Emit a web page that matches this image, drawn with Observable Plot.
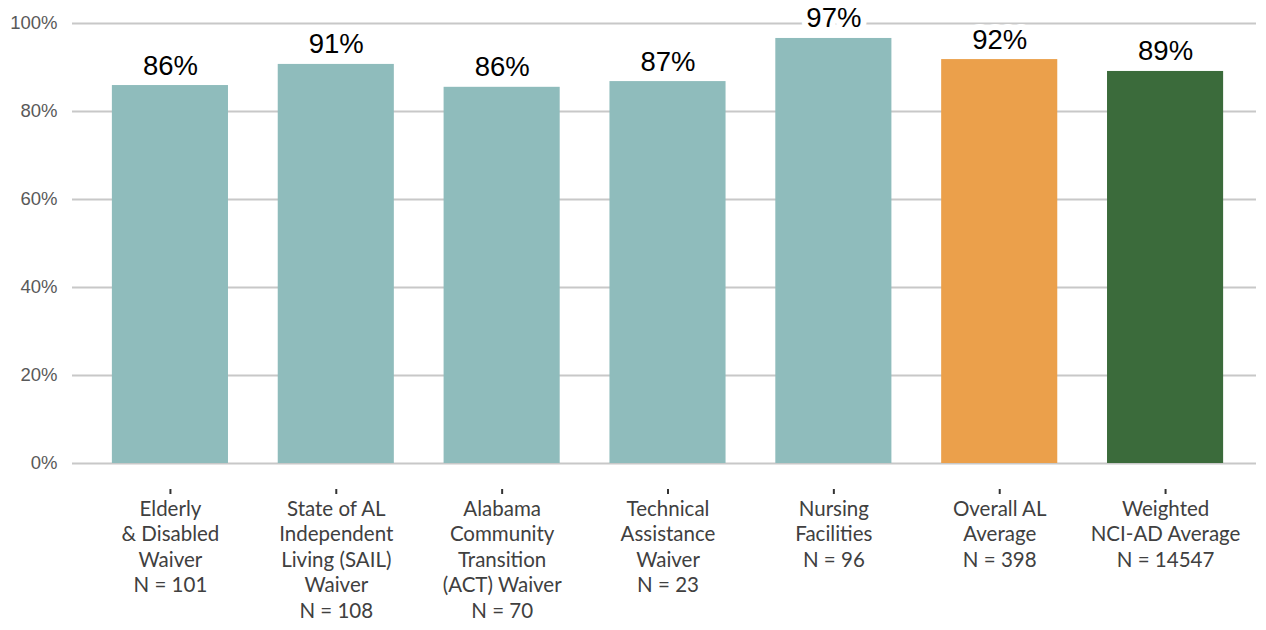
<!DOCTYPE html>
<html><head><meta charset="utf-8">
<script src="https://cdn.jsdelivr.net/npm/d3@7"></script>
<script src="https://cdn.jsdelivr.net/npm/@observablehq/plot@0.6"></script>
<style>body{margin:0;background:#fff}</style>
</head><body><div id="chart"></div>
<script>
const categories = ["Elderly & Disabled Waiver", "SAIL Waiver", "ACT Waiver", "Technical Assistance Waiver", "Nursing Facilities", "Overall AL Average", "Weighted NCI-AD Average"];
const tickLabels = [
  "Elderly\n& Disabled\nWaiver\nN = 101",
  "State of AL\nIndependent\nLiving (SAIL)\nWaiver\nN = 108",
  "Alabama\nCommunity\nTransition\n(ACT) Waiver\nN = 70",
  "Technical\nAssistance\nWaiver\nN = 23",
  "Nursing\nFacilities\nN = 96",
  "Overall AL\nAverage\nN = 398",
  "Weighted\nNCI-AD Average\nN = 14547"
];
const values = [85.9, 90.7, 85.5, 86.8, 96.6, 91.8, 89.1];
const groups = ["Program", "Program", "Program", "Program", "Program", "Overall AL", "NCI-AD"];
const yTicks = [0, 20, 40, 60, 80, 100];

const data = categories.map((c, i) => ({category: c, value: values[i], group: groups[i], label: Math.round(values[i]) + "%"}));

const chart = Plot.plot({
  width: 1266, height: 630,
  marginTop: 23, marginBottom: 167, marginLeft: 72, marginRight: 10,
  style: {background: "#fff"},
  x: {domain: categories, insetLeft: 15, insetRight: 8, paddingInner: 0.3, paddingOuter: 0.15, round: false, label: null},
  y: {domain: [0, 100], label: null},
  color: {domain: ["Program", "Overall AL", "NCI-AD"], range: ["#8FBCBC", "#EBA04B", "#3B6B3B"]},
  marks: [
    Plot.gridY(yTicks, {stroke: "#C8C8C8", strokeOpacity: 1, strokeWidth: 2}),
    Plot.axisY(yTicks, {tickSize: 0, tickPadding: 15, tickFormat: d => d + "%", fontSize: 18.5, fill: "#595959", fontFamily: "Liberation Sans, Arial, sans-serif"}),
    Plot.barY(data, {x: "category", y: "value", fill: "group"}),
    Plot.axisX({tickSize: 5, dy: 26, tickPadding: 3, tickFormat: d => tickLabels[categories.indexOf(d)], fontSize: 20.5, lineHeight: 1.245, fill: "#404040", stroke: "#333", strokeWidth: 2, fontFamily: "Lato, sans-serif"}),
    Plot.text(data, {x: "category", y: "value", text: "label", lineAnchor: "bottom", dy: -11, fontSize: 27.5, fill: "#000", stroke: "#fff", strokeWidth: 12, fontFamily: "Liberation Sans, Arial, sans-serif"})
  ]
});
document.getElementById("chart").appendChild(chart);
</script>
</body></html>
